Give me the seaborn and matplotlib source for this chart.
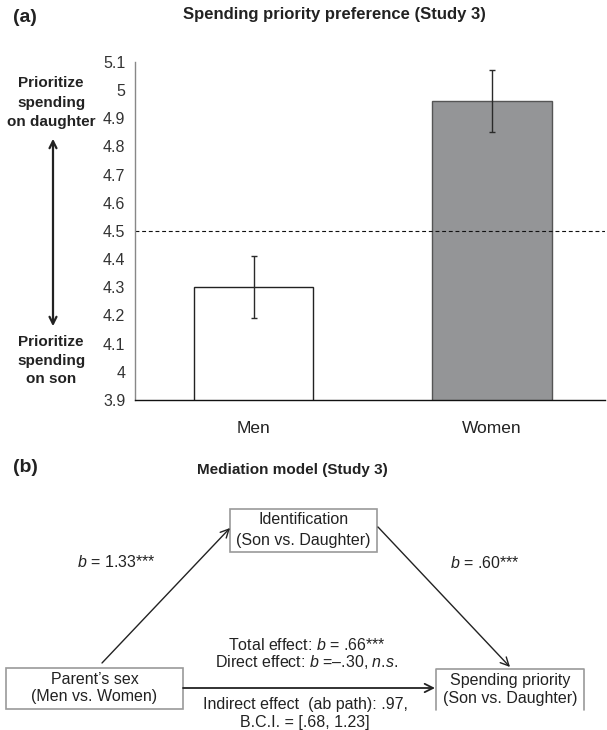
import matplotlib
matplotlib.use("Agg")
import matplotlib.pyplot as plt
from matplotlib.patches import Rectangle
import seaborn as sns
import pandas as pd

# ---- data ----
categories = ["Men", "Women"]
means = [4.30, 4.96]
errors = [0.11, 0.11]
ytick_values = [3.9, 4.0, 4.1, 4.2, 4.3, 4.4, 4.5, 4.6, 4.7, 4.8, 4.9, 5.0, 5.1]
ytick_labels = ["3.9", "4", "4.1", "4.2", "4.3", "4.4", "4.5", "4.6", "4.7", "4.8", "4.9", "5", "5.1"]
midpoint = 4.5
bar_colors = ["#ffffff", "#939598"]
bar_edges = ["#222222", "#555555"]

sns.set_style("white")
plt.rcParams["font.family"] = ["Liberation Sans", "DejaVu Sans"]
plt.rcParams["mathtext.fontset"] = "custom"
plt.rcParams["mathtext.rm"] = "Liberation Sans"
plt.rcParams["mathtext.it"] = "Liberation Sans:italic"

W, H = 607, 730
fig = plt.figure(figsize=(W / 100, H / 100), dpi=100)

# ---- panel (a) ----
ax_l, ax_r, ax_t, ax_b = 135, 605, 62, 400
ax1 = fig.add_axes([ax_l / W, 1 - ax_b / H, (ax_r - ax_l) / W, (ax_b - ax_t) / H])
df = pd.DataFrame({"Parent": categories, "Spending": means})
sns.barplot(data=df, x="Parent", y="Spending", hue="Parent", palette=bar_colors,
            width=0.5, linewidth=1.0, legend=False, ax=ax1, errorbar=None)
for p, ec in zip(ax1.patches, bar_edges):
    p.set_edgecolor(ec)
ax1.errorbar(x=list(range(len(categories))), y=means, yerr=errors, fmt="none",
             ecolor="#2a2a2a", elinewidth=1.0, capsize=2.5, capthick=1.0, zorder=5)
ax1.axhline(midpoint, color="#111111", lw=0.8, ls=(0, (3.5, 2.5)), zorder=1)
ax1.set_ylim(3.9, 5.1)
ax1.set_xlim(-0.497, 1.474)
ax1.set_yticks(ytick_values)
ax1.set_yticklabels(ytick_labels)
ax1.set_xlabel("")
ax1.set_ylabel("")
for s in ["top", "right"]:
    ax1.spines[s].set_visible(False)
ax1.spines["left"].set_color("#888888")
ax1.spines["left"].set_linewidth(1.0)
ax1.spines["bottom"].set_color("#111111")
ax1.spines["bottom"].set_linewidth(1.0)
ax1.tick_params(axis="y", direction="out", length=4, width=1.0, color="#888888",
                labelsize=11.5, labelcolor="#333333", pad=3)
ax1.tick_params(axis="x", length=0, labelsize=12.5, labelcolor="#222222", pad=15)

# ---- overlay for annotations and diagram ----
ov = fig.add_axes([0, 0, 1, 1])
ov.set_xlim(0, W)
ov.set_ylim(H, 0)
ov.axis("off")
ov.patch.set_alpha(0)

tc = "#222222"
ov.text(13, 18, "(a)", fontsize=14, fontweight="bold", ha="left", va="center", color=tc)
ov.text(334, 15, "Spending priority preference (Study 3)", fontsize=12, fontweight="bold",
        ha="center", va="center", color=tc)
for txt, y in [("Prioritize", 83), ("spending", 103), ("on daughter", 122)]:
    ov.text(51, y, txt, fontsize=11, fontweight="bold", ha="center", va="center", color=tc)
for txt, y in [("Prioritize", 342), ("spending", 361), ("on son", 379)]:
    ov.text(51, y, txt, fontsize=11, fontweight="bold", ha="center", va="center", color=tc)
ov.annotate("", xy=(53, 136), xytext=(53, 329),
            arrowprops=dict(arrowstyle="<->,head_length=0.5,head_width=0.25", lw=1.6, color=tc))

# ---- panel (b) ----
ov.text(13, 468, "(b)", fontsize=14, fontweight="bold", ha="left", va="center", color=tc)
ov.text(292, 470, "Mediation model (Study 3)", fontsize=11, fontweight="bold",
        ha="center", va="center", color=tc)

box_ec = "#9a9a9a"
fs = 11.5
# Identification box
ov.add_patch(Rectangle((230, 509), 147, 43, facecolor="white", edgecolor=box_ec, lw=1.2))
ov.text(303.5, 520, "Identification", fontsize=fs, ha="center", va="center", color=tc)
ov.text(303.5, 540, "(Son vs. Daughter)", fontsize=fs, ha="center", va="center", color=tc)
# Parent's sex box
ov.add_patch(Rectangle((6, 668), 177, 41, facecolor="white", edgecolor=box_ec, lw=1.2))
ov.text(94.5, 679, "Parent\u2019s sex", fontsize=fs, ha="center", va="center", color=tc)
ov.text(94.5, 696, "(Men vs. Women)", fontsize=fs, ha="center", va="center", color=tc)
# Spending priority box (bottom edge open)
ov.plot([436, 436, 584, 584], [710, 669, 669, 710], color=box_ec, lw=1.2)
ov.text(510, 680, "Spending priority", fontsize=fs, ha="center", va="center", color=tc)
ov.text(510, 699, "(Son vs. Daughter)", fontsize=fs, ha="center", va="center", color=tc)

# arrows
ov.annotate("", xy=(230, 528), xytext=(102, 663),
            arrowprops=dict(arrowstyle="->,head_length=0.6,head_width=0.3", lw=1.0, color=tc,
                            shrinkA=0, shrinkB=0))
ov.annotate("", xy=(510, 667), xytext=(378, 527),
            arrowprops=dict(arrowstyle="->,head_length=0.6,head_width=0.3", lw=1.0, color=tc,
                            shrinkA=0, shrinkB=0))
ov.annotate("", xy=(435, 688), xytext=(183, 688),
            arrowprops=dict(arrowstyle="->,head_length=0.6,head_width=0.3", lw=1.3, color=tc,
                            shrinkA=0, shrinkB=0))

# path labels
ov.text(116, 562, "$b$ = 1.33***", fontsize=fs, ha="center", va="center", color=tc)
ov.text(485, 563, "$b$ = .60***", fontsize=fs, ha="center", va="center", color=tc)
ov.text(307, 645, "Total effect: $b$ = .66***", fontsize=fs, ha="center", va="center", color=tc)
ov.text(307, 662, "Direct effect: $b$ =\u2013.30, $n$.$s$.", fontsize=fs, ha="center", va="center", color=tc)
ov.text(305, 704, "Indirect effect  (ab path): .97,", fontsize=fs, ha="center", va="center", color=tc)
ov.text(305, 722, "B.C.I. = [.68, 1.23]", fontsize=fs, ha="center", va="center", color=tc)

fig.savefig("out.png", dpi=100)
